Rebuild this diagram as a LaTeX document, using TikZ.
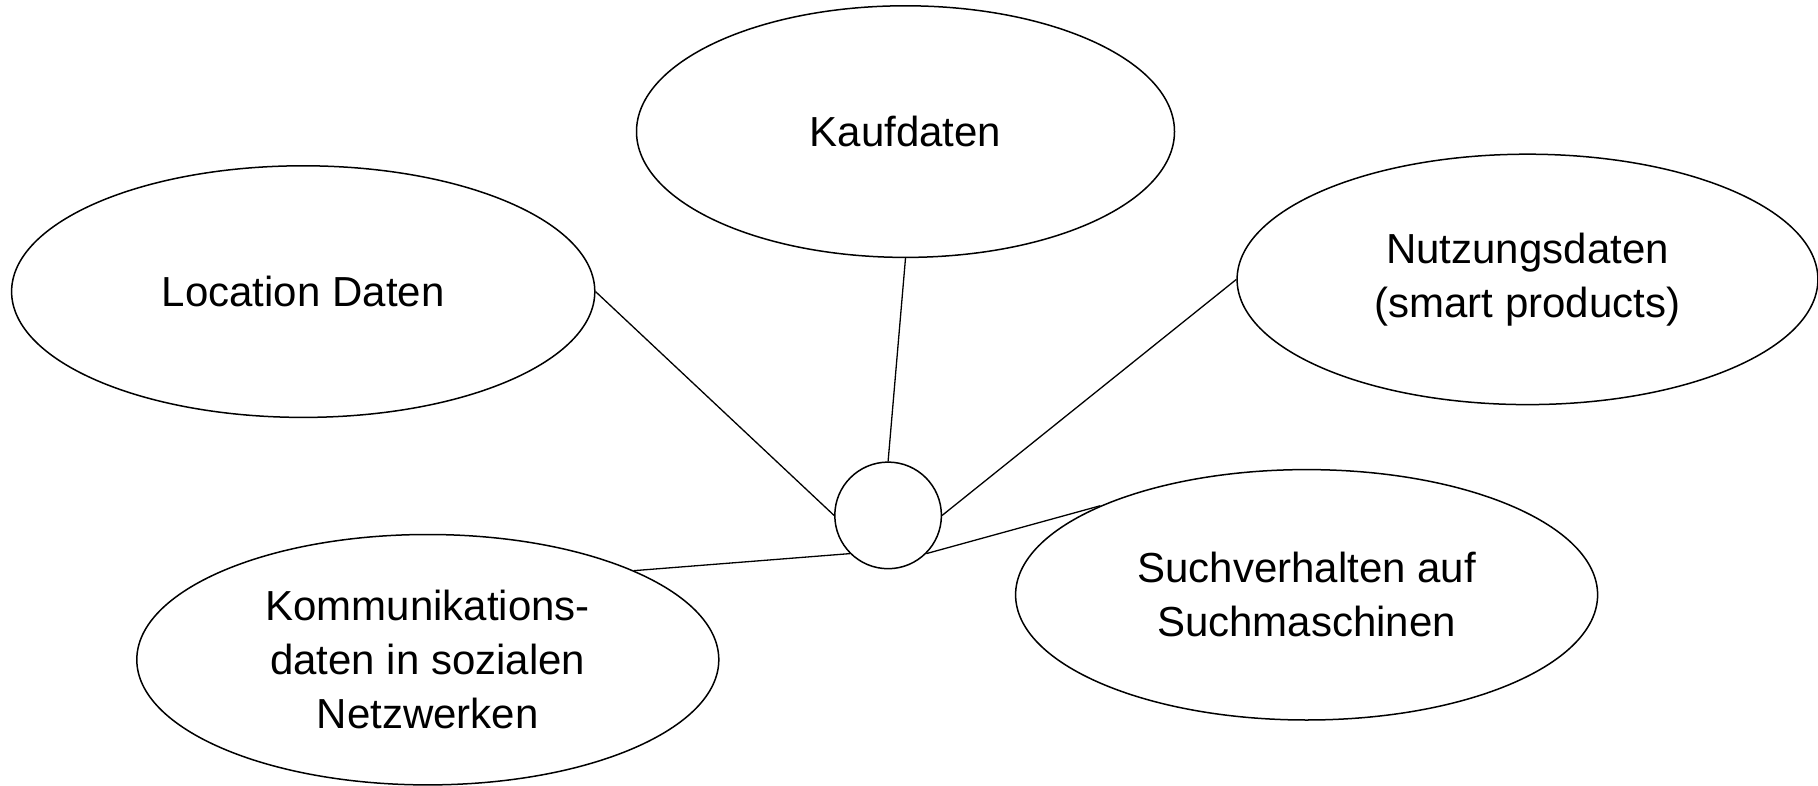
\documentclass[tikz,border=0pt]{standalone}
\usepackage{fontspec}
\setmainfont{Liberation Sans}
\usetikzlibrary{shapes.geometric}
\begin{document}
\begin{tikzpicture}[x=1pt,y=-1pt,
  blob/.style={ellipse,draw=black,line width=1.5pt,inner sep=0pt,align=center,
    font=\fontsize{42}{54}\selectfont},
  hub/.style={circle,draw=black,line width=1.5pt,inner sep=0pt,minimum size=106.6pt},
  link/.style={draw=black,line width=1.3pt}]
\useasboundingbox (0,0) rectangle (1818,786);
\node[blob,minimum width=538pt,minimum height=251.6pt] (kauf) at (905.5,131.6) {Kaufdaten};
\node[blob,minimum width=583.2pt,minimum height=251.6pt] (loc) at (303.2,291.6) {Location Daten};
\node[blob,minimum width=580.8pt,minimum height=250.4pt] (nutz) at (1527.5,279.4) {Nutzungsdaten\\(smart products)};
\node[hub] (c) at (888.1,515.4) {};
\node[blob,minimum width=582pt,minimum height=250.4pt] (komm) at (427.8,659.7) {Kommunikations-\\daten in sozialen\\Netzwerken};
\node[blob,minimum width=582pt,minimum height=250.4pt] (such) at (1306.6,594.8) {Suchverhalten auf\\Suchmaschinen};
\draw[link] (loc.east) -- (c.west);
\draw[link] (kauf.south) -- (c.north);
\draw[link] (nutz.west) -- (c.east);
\draw[link] (komm.north east) -- (c.south west);
\draw[link] (such.north west) -- (c.south east);
\end{tikzpicture}
\end{document}
